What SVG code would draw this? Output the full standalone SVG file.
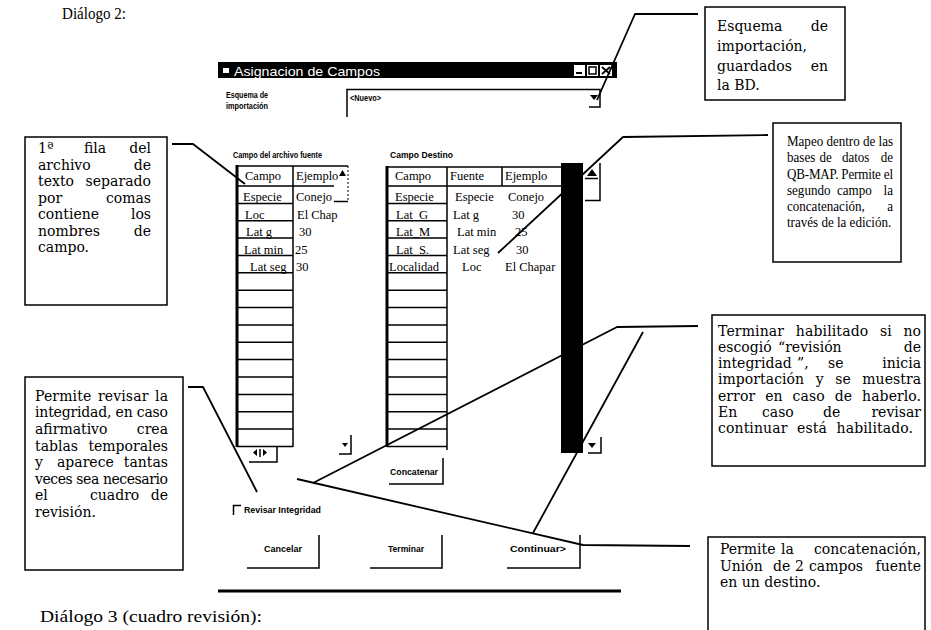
<svg xmlns="http://www.w3.org/2000/svg" width="931" height="630" viewBox="0 0 931 630">
<defs>
<style>
.note{font-family:"DejaVu Serif","Liberation Serif",serif;font-size:14px;fill:#000}
.note2{font-family:"Liberation Serif",serif;font-size:14.5px;fill:#000}
.cap{font-family:"Liberation Serif",serif;font-size:16px;fill:#000}
.cell{font-family:"Liberation Serif",serif;font-size:12.5px;fill:#000}
.ui{font-family:"Liberation Sans Narrow","Liberation Sans",sans-serif;font-weight:bold;font-size:9.5px;fill:#000}
.title{font-family:"Liberation Sans",sans-serif;font-size:13.5px;fill:#fff}
.box{fill:#fff;stroke:#000;stroke-width:1.5}
.lead{fill:none;stroke:#000;stroke-width:1.8;stroke-linejoin:round}
.g{stroke:#000;stroke-width:1.5;fill:none}
.gt{stroke:#000;stroke-width:3;fill:none}
.dot{stroke:#000;stroke-width:1;stroke-dasharray:2 2;fill:none}
.end{text-anchor:end}
</style>
</defs>
<rect width="931" height="630" fill="#fff"/>

<text class="cap" x="62" y="19" textLength="64" lengthAdjust="spacingAndGlyphs">Diálogo 2:</text>
<text class="cap" x="40" y="622" textLength="222" lengthAdjust="spacingAndGlyphs">Diálogo 3 (cuadro revisión):</text>

<!-- dialog window: Asignacion de Campos -->
<g id="window">
  <rect x="218" y="62" width="399" height="16" fill="#000"/>
  <path d="M223 68h6v5h-6z" fill="#fff"/>
  <text class="title" x="234" y="75.5" textLength="146" lengthAdjust="spacingAndGlyphs">Asignacion de Campos</text>
  <!-- caption buttons -->
  <rect x="574" y="65" width="11" height="11" fill="#fff"/>
  <rect x="576" y="72" width="6" height="2" fill="#000"/>
  <rect x="587" y="65" width="11" height="11" fill="#fff"/>
  <rect x="589" y="67" width="7" height="7" fill="none" stroke="#000" stroke-width="1.5"/>
  <rect x="600" y="65" width="12" height="11" fill="#fff"/>
  <path d="M602 67l8 7M610 67l-8 7" stroke="#000" stroke-width="1.8"/>

  <!-- import scheme selector -->
  <text class="ui" x="226" y="98" textLength="42" lengthAdjust="spacingAndGlyphs">Esquema de</text>
  <text class="ui" x="226" y="109" textLength="42" lengthAdjust="spacingAndGlyphs">importación</text>
  <path class="g" d="M347 117V89.5H600V107H589" stroke-width="2"/>
  <text class="ui" x="350" y="101" textLength="31" lengthAdjust="spacingAndGlyphs">&lt;Nuevo&gt;</text>
  <path d="M590 95h8l-4 5z" fill="#000"/>
</g>

<!-- source file grid -->
<g id="grid-source">
  <text class="ui" x="233" y="158" textLength="89" lengthAdjust="spacingAndGlyphs">Campo del archivo fuente</text>
  <path class="g" d="M237 166H348" stroke-width="2"/>
  <path class="gt" d="M237 165V447"/>
  <path class="g" d="M293 166V447M237 186H334"/>
  <path class="dot" d="M348 166V201"/>
  <path class="g" d="M334 201.5H348" stroke-width="2"/>
  <path d="M339 176l3.5-6 3.5 6z" fill="#000"/>
  <path class="g" d="M237 203.4H293M237 220.8H293M237 238.1H293M237 255.5H293M237 272.8H293M237 290.2H293M237 307.6H293M237 324.9H293M237 342.3H293M237 359.6H293M237 377H293M237 394.4H293M237 411.7H293M237 429.1H293M237 446.4H293"/>
  <text class="cell" x="245" y="180">Campo</text>
  <text class="cell" x="296" y="180">Ejemplo</text>
  <text class="cell" x="243" y="201.4">Especie</text>
  <text class="cell" x="296" y="201.4">Conejo</text>
  <text class="cell" x="245" y="218.8">Loc</text>
  <text class="cell" x="297" y="218.8">El Chap</text>
  <text class="cell" x="246" y="236.1">Lat g</text>
  <text class="cell" x="299" y="236.1">30</text>
  <text class="cell" x="244" y="253.5">Lat min</text>
  <text class="cell" x="295" y="253.5">25</text>
  <text class="cell" x="250" y="270.8">Lat seg</text>
  <text class="cell" x="296" y="270.8">30</text>
  <!-- scroll buttons -->
  <path d="M342 443h6l-3 4z" fill="#000"/>
  <path class="g" d="M351 435V454H339" stroke-width="2"/>
  <path d="M257 449v7l-4-3.5z M263 449v7l4-3.5z" fill="#000"/>
  <path class="g" d="M260 449V457"/>
  <path class="g" d="M277 447V462H249" stroke-width="2"/>
</g>

<!-- destination grid -->
<g id="grid-target">
  <text class="ui" x="390" y="158" textLength="63" lengthAdjust="spacingAndGlyphs">Campo Destino</text>
  <path class="g" d="M387 167H561" stroke-width="2"/>
  <path class="gt" d="M387 166V447"/>
  <path class="g" d="M447 167V450M502 167V186M387 186H561"/>
  <path class="g" d="M387 203.4H447M387 220.8H447M387 238.1H447M387 255.5H447M387 272.8H447M387 290.2H447M387 307.6H447M387 324.9H447M387 342.3H447M387 359.6H447M387 377H447M387 394.4H447M387 411.7H447M387 429.1H447M387 446.4H447"/>
  <text class="cell" x="395" y="180">Campo</text>
  <text class="cell" x="450" y="180">Fuente</text>
  <text class="cell" x="505" y="180">Ejemplo</text>
  <text class="cell" x="395" y="201.4">Especie</text>
  <text class="cell" x="455" y="201.4">Especie</text>
  <text class="cell" x="508" y="201.4">Conejo</text>
  <text class="cell" x="396" y="218.8">Lat_G</text>
  <text class="cell" x="453" y="218.8">Lat g</text>
  <text class="cell" x="512" y="218.8">30</text>
  <text class="cell" x="396" y="236.1">Lat_M</text>
  <text class="cell" x="457" y="236.1">Lat min</text>
  <text class="cell" x="515" y="236.1">25</text>
  <text class="cell" x="396" y="253.5">Lat_S.</text>
  <text class="cell" x="453" y="253.5">Lat seg</text>
  <text class="cell" x="516" y="253.5">30</text>
  <text class="cell" x="389" y="270.8">Localidad</text>
  <text class="cell" x="462" y="270.8">Loc</text>
  <text class="cell" x="505" y="270.8">El Chapar</text>
  <!-- scroll bar -->
  <rect x="561" y="163" width="22" height="290" fill="#000"/>
  <path d="M587 176l5-7 5 7z" fill="#000"/>
  <path class="g" d="M585 178.5H598" stroke-width="2"/>
  <path class="g" d="M600 163V200.5H585" stroke-width="2"/>
  <path d="M588 443h8l-4 5z" fill="#000"/>
  <path class="g" d="M601 437V453H588" stroke-width="2"/>
</g>

<!-- dialog controls -->
<g id="btn-concatenar">
  <path class="g" d="M443 458V484H389" stroke-width="2"/>
  <text class="ui" x="390" y="475" textLength="48" lengthAdjust="spacingAndGlyphs">Concatenar</text>
</g>
<g id="chk-revisar">
  <path class="g" d="M233.5 515V505.5H241" stroke-width="2"/>
  <text class="ui" x="244" y="513" textLength="77" lengthAdjust="spacingAndGlyphs">Revisar Integridad</text>
</g>
<g id="btn-cancelar">
  <path class="g" d="M319 535V568H247" stroke-width="2"/>
  <text class="ui" x="264" y="552" textLength="38" lengthAdjust="spacingAndGlyphs">Cancelar</text>
</g>
<g id="btn-terminar">
  <path class="g" d="M442 535V568H370" stroke-width="2"/>
  <text class="ui" x="388" y="552" textLength="36" lengthAdjust="spacingAndGlyphs">Terminar</text>
</g>
<g id="btn-continuar">
  <path class="g" d="M580 535V568H507" stroke-width="2"/>
  <text class="ui" x="510" y="552" textLength="56" lengthAdjust="spacingAndGlyphs">Continuar&gt;</text>
</g>
<path d="M218 591H621" stroke="#000" stroke-width="3"/>

<!-- leader lines -->
<g id="connectors">
  <polyline class="lead" points="172,144 193,144 245,184"/>
  <polyline class="lead" points="698,14 635,14 597,100"/>
  <polyline class="lead" points="768,135 623,137 498,253"/>
  <polyline class="lead" points="698,326 617,327 313,483"/>
  <polyline class="lead" points="643,332 533,533"/>
  <polyline class="lead" points="297,479 583,545 690,546"/>
  <polyline class="lead" points="188,387 203,387 257,492"/>
</g>

<!-- callouts -->
<g id="note-fila">
  <rect class="box" x="25" y="137" width="142" height="168"/>
  <text class="note" x="38" y="153">1ª</text><text class="note" x="84" y="153">fila</text><text class="note end" x="151" y="153">del</text>
  <text class="note" x="38" y="169.5">archivo</text><text class="note end" x="151" y="169.5">de</text>
  <text class="note" x="38" y="186" textLength="113" lengthAdjust="spacing" word-spacing="7">texto separado</text>
  <text class="note" x="38" y="202.5">por</text><text class="note end" x="151" y="202.5">comas</text>
  <text class="note" x="38" y="219">contiene</text><text class="note end" x="151" y="219">los</text>
  <text class="note" x="38" y="235.5">nombres</text><text class="note end" x="151" y="235.5">de</text>
  <text class="note" x="38" y="252">campo.</text>
</g>

<g id="note-esquema">
  <rect class="box" x="705" y="7" width="140" height="93"/>
  <text class="note" x="717" y="31">Esquema</text><text class="note end" x="828" y="31">de</text>
  <text class="note" x="717" y="51">importación,</text>
  <text class="note" x="717" y="71">guardados</text><text class="note end" x="828" y="71">en</text>
  <text class="note" x="717" y="90">la BD.</text>
</g>

<g id="note-mapeo">
  <rect class="box" x="773" y="123" width="128" height="139"/>
  <!-- condensed text block, local x measured from the left text margin -->
  <g transform="matrix(0.9 0 0 1 787 0)">
    <text class="note2" x="0" y="146" textLength="117.8" lengthAdjust="spacing">Mapeo dentro de las</text>
    <text class="note2" x="0" y="162">bases</text><text class="note2" x="36" y="162">de</text><text class="note2" x="61" y="162">datos</text><text class="note2 end" x="117.8" y="162">de</text>
    <text class="note2" x="0" y="179" textLength="117.8" lengthAdjust="spacing">QB-MAP. Permite el</text>
    <text class="note2" x="0" y="195">segundo</text><text class="note2" x="55.6" y="195">campo</text><text class="note2 end" x="117.8" y="195">la</text>
    <text class="note2" x="0" y="211">concatenación,</text><text class="note2 end" x="117.8" y="211">a</text>
    <text class="note2" x="0" y="227">través de la edición.</text>
  </g>
</g>

<g id="note-terminar">
  <rect class="box" x="712" y="315" width="213" height="151"/>
  <text class="note" x="718" y="336" textLength="203" lengthAdjust="spacing" word-spacing="7">Terminar habilitado si no</text>
  <text class="note" x="718" y="352">escogió</text><text class="note" x="778" y="352">“revisión</text><text class="note end" x="921" y="352">de</text>
  <text class="note" x="718" y="368">integridad</text><text class="note" x="797" y="368">”,</text><text class="note" x="828" y="368">se</text><text class="note end" x="921" y="368">inicia</text>
  <text class="note" x="718" y="384" textLength="203" lengthAdjust="spacing" word-spacing="7">importación y se muestra</text>
  <text class="note" x="718" y="401" textLength="203" lengthAdjust="spacing" word-spacing="5.5">error en caso de haberlo.</text>
  <text class="note" x="718" y="417">En</text><text class="note" x="762" y="417">caso</text><text class="note" x="823" y="417">de</text><text class="note end" x="921" y="417">revisar</text>
  <text class="note" x="718" y="433" textLength="195" lengthAdjust="spacing" word-spacing="5">continuar está habilitado.</text>
</g>

<g id="note-concatenar">
  <rect class="box" x="708" y="537" width="217" height="100"/>
  <text class="note" x="720" y="554">Permite</text><text class="note" x="781" y="554">la</text><text class="note end" x="921" y="554">concatenación,</text>
  <text class="note" x="720" y="571">Unión</text><text class="note" x="773" y="571">de</text><text class="note" x="795" y="571">2</text><text class="note" x="809" y="571">campos</text><text class="note end" x="921" y="571">fuente</text>
  <text class="note" x="720" y="587">en un destino.</text>
</g>

<g id="note-revisar">
  <rect class="box" x="25" y="377" width="158" height="193"/>
  <text class="note" x="35" y="401" textLength="133" lengthAdjust="spacing" word-spacing="2">Permite revisar la</text>
  <text class="note" x="35" y="417" textLength="133" lengthAdjust="spacing">integridad, en caso</text>
  <text class="note" x="35" y="434">afirmativo</text><text class="note end" x="168" y="434">crea</text>
  <text class="note" x="35" y="451">tablas</text><text class="note end" x="168" y="451">temporales</text>
  <text class="note" x="35" y="467">y</text><text class="note" x="57" y="467">aparece</text><text class="note end" x="168" y="467">tantas</text>
  <text class="note" x="35" y="484" textLength="133" lengthAdjust="spacing">veces sea necesario</text>
  <text class="note" x="35" y="500">el</text><text class="note" x="90" y="500">cuadro</text><text class="note end" x="168" y="500">de</text>
  <text class="note" x="35" y="517">revisión.</text>
</g>
</svg>
